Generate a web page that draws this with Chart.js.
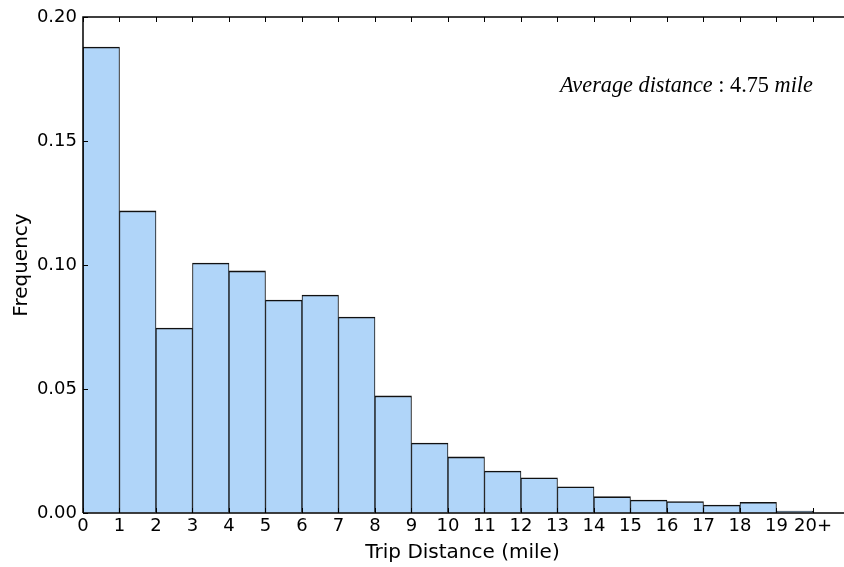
<!DOCTYPE html>
<html>
<head>
<meta charset="utf-8">
<script src="https://cdn.jsdelivr.net/npm/chart.js@4/dist/chart.umd.min.js"></script>
<style>
html,body{margin:0;padding:0;background:#fff;overflow:hidden;}
#c{display:block;}
</style>
</head>
<body>
<canvas id="c" width="844" height="567"></canvas>
<script>
// ---- data ----
const binCenters = [0.5,1.5,2.5,3.5,4.5,5.5,6.5,7.5,8.5,9.5,10.5,11.5,12.5,13.5,14.5,15.5,16.5,17.5,18.5,19.5];
const frequencies = [0.1879,0.1218,0.0746,0.1008,0.0976,0.0859,0.0879,0.0790,0.0472,0.0282,0.0226,0.0169,0.0142,0.0106,0.0066,0.0052,0.0046,0.0032,0.0043,0.0008];
const xTickValues = [0,1,2,3,4,5,6,7,8,9,10,11,12,13,14,15,16,17,18,19,20];
const xTickLabels = ['0','1','2','3','4','5','6','7','8','9','10','11','12','13','14','15','16','17','18','19','20+'];
const yTickValues = [0,0.05,0.10,0.15,0.20];
const xTitle = 'Trip Distance (mile)';
const yTitle = 'Frequency';
const annotation = [
  {text:'Average distance', italic:true},
  {text:' : 4.75 ', italic:false},
  {text:'mile', italic:true}
];

const framePlugin = {
  id:'frame',
  afterDatasetsDraw(chart){
    const {ctx, chartArea:a, scales:{x,y}} = chart;
    ctx.save();
    ctx.strokeStyle = '#000';
    ctx.lineWidth = 1.5;
    ctx.beginPath();
    ctx.moveTo(a.left, a.bottom); ctx.lineTo(a.left, a.top); ctx.lineTo(a.right+2, a.top);
    ctx.moveTo(a.left, a.bottom); ctx.lineTo(a.right+2, a.bottom);
    ctx.stroke();
    ctx.lineWidth = 1;
    ctx.beginPath();
    xTickValues.forEach(v=>{
      const px = Math.round(x.getPixelForValue(v))+0.5;
      ctx.moveTo(px, a.top); ctx.lineTo(px, a.top+5);
      ctx.moveTo(px, a.bottom); ctx.lineTo(px, a.bottom-5);
    });
    yTickValues.forEach(v=>{
      const py = Math.round(y.getPixelForValue(v))+0.5;
      ctx.moveTo(a.left, py); ctx.lineTo(a.left+5, py);
    });
    ctx.stroke();
    // axis titles
    ctx.fillStyle = '#000';
    ctx.font = '20px "DejaVu Sans"';
    ctx.textAlign = 'center';
    ctx.textBaseline = 'alphabetic';
    ctx.fillText(xTitle, (a.left+a.right)/2 - 1, 558);
    ctx.save();
    ctx.translate(27, (a.top+a.bottom)/2);
    ctx.rotate(-Math.PI/2);
    ctx.fillText(yTitle, 0, 0);
    ctx.restore();
    // annotation
    const size = 20;
    const fonts = {true:`italic ${size}px "Liberation Serif"`, false:`${size}px "Liberation Serif"`};
    let total = 0;
    annotation.forEach(s=>{ctx.font = fonts[s.italic]; total += ctx.measureText(s.text).width;});
    const targetW = 253;
    const scale = targetW/total;
    let xx = 813 - targetW;
    ctx.textAlign = 'left';
    annotation.forEach(s=>{
      ctx.font = s.italic ? `italic ${size*scale}px "Liberation Serif"` : `${size*scale}px "Liberation Serif"`;
      ctx.fillText(s.text, xx, 92);
      xx += ctx.measureText(s.text).width;
    });
    ctx.restore();
  }
};

new Chart(document.getElementById('c'), {
  type:'bar',
  data:{
    datasets:[{
      data: binCenters.map((c,i)=>({x:c, y:frequencies[i]})),
      backgroundColor:'#b0d5f9',
      borderColor:'#111',
      borderWidth:{top:1.6,left:1,right:1,bottom:0},
      borderSkipped:false,
      barPercentage:1,
      categoryPercentage:1
    }]
  },
  options:{
    responsive:false,
    animation:false,
    devicePixelRatio:1,
    layout:{padding:{top:17,right:0,left:0,bottom:0}},
    plugins:{legend:{display:false},tooltip:{enabled:false}},
    scales:{
      x:{
        type:'linear', min:0, max:20.85, offset:false,
        afterBuildTicks(s){ s.ticks = xTickValues.map(v=>({value:v})); },
        afterFit(s){ s.height = 54; },
        grid:{display:true, drawOnChartArea:false, drawTicks:false, color:'rgba(0,0,0,0)'},
        border:{display:false},
        ticks:{
          autoSkip:false, maxRotation:0, padding:3, color:'#000',
          font:{family:'DejaVu Sans', size:18},
          callback:(v)=>{const i = xTickValues.indexOf(v); return i>=0 ? xTickLabels[i] : '';}
        }
      },
      y:{
        min:0, max:0.2,
        afterBuildTicks(s){ s.ticks = yTickValues.map(v=>({value:v})); },
        afterFit(s){ s.width = 83; },
        grid:{display:true, drawOnChartArea:false, drawTicks:false, color:'rgba(0,0,0,0)'},
        border:{display:false},
        ticks:{
          padding:6, color:'#000',
          font:{family:'DejaVu Sans', size:18},
          callback:(v)=>Number(v).toFixed(2)
        }
      }
    }
  },
  plugins:[framePlugin]
});
</script>
</body>
</html>
